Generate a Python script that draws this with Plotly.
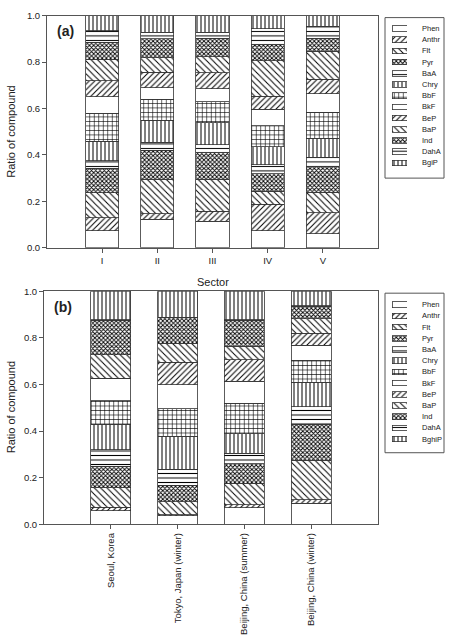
import plotly.graph_objects as go

# ---------------- data ----------------
compounds_a = ["Phen", "Anthr", "Flt", "Pyr", "BaA", "Chry", "BbF", "BkF", "BeP", "BaP", "Ind", "DahA", "BgiP"]
compounds_b = ["Phen", "Anthr", "Flt", "Pyr", "BaA", "Chry", "BbF", "BkF", "BeP", "BaP", "Ind", "DahA", "BghiP"]
sectors = ["I", "II", "III", "IV", "V"]
sites = ["Seoul, Korea", "Tokyo, Japan (winter)", "Beijing, China (summer)", "Beijing, China (winter)"]

# panel (a): ratio of each compound per sector (I..V)
phen_a = [0.074, 0.122, 0.115, 0.074, 0.060]
anthr_a = [0.055, 0.024, 0.042, 0.114, 0.090]
flt_a = [0.107, 0.150, 0.139, 0.055, 0.090]
pyr_a = [0.107, 0.125, 0.114, 0.076, 0.111]
baa_a = [0.032, 0.033, 0.034, 0.038, 0.038]
chry_a = [0.083, 0.095, 0.095, 0.078, 0.083]
bbf_a = [0.121, 0.090, 0.090, 0.090, 0.111]
bkf_a = [0.071, 0.051, 0.056, 0.072, 0.081]
bep_a = [0.069, 0.067, 0.068, 0.056, 0.062]
bap_a = [0.094, 0.062, 0.071, 0.153, 0.121]
ind_a = [0.072, 0.081, 0.079, 0.069, 0.056]
daha_a = [0.050, 0.028, 0.025, 0.069, 0.051]
bgip_a = [0.065, 0.072, 0.072, 0.056, 0.046]

# panel (b): ratio of each compound per site
phen_b = [0.059, 0.036, 0.071, 0.091]
anthr_b = [0.013, 0.004, 0.013, 0.014]
flt_b = [0.084, 0.057, 0.093, 0.169]
pyr_b = [0.094, 0.070, 0.082, 0.156]
baa_b = [0.070, 0.069, 0.046, 0.074]
chry_b = [0.109, 0.142, 0.083, 0.106]
bbf_b = [0.101, 0.117, 0.131, 0.093]
bkf_b = [0.094, 0.104, 0.094, 0.065]
bep_b = [0.002, 0.097, 0.094, 0.052]
bap_b = [0.102, 0.080, 0.058, 0.062]
ind_b = [0.148, 0.110, 0.111, 0.053]
daha_b = [0.002, 0.002, 0.002, 0.003]
bghip_b = [0.122, 0.112, 0.122, 0.062]

series_a = [phen_a, anthr_a, flt_a, pyr_a, baa_a, chry_a, bbf_a, bkf_a, bep_a, bap_a, ind_a, daha_a, bgip_a]
series_b = [phen_b, anthr_b, flt_b, pyr_b, baa_b, chry_b, bbf_b, bkf_b, bep_b, bap_b, ind_b, daha_b, bghip_b]

# ---------------- styles ----------------
W, H = 456, 635
FONT = "Liberation Sans, Arial, sans-serif"
TXT = "#222222"
AX = "#555555"
# (shape, size, solidity) per compound
PAT = [
    ("", 4, 0.2),
    ("/", 4, 0.25),
    ("\\", 4.5, 0.22),
    ("x", 3, 0.5),
    ("-", 4.5, 0.22),
    ("|", 4, 0.25),
    ("+", 4.5, 0.25),
    ("", 4, 0.2),
    ("/", 4, 0.25),
    ("\\", 4.5, 0.22),
    ("x", 3, 0.5),
    ("-", 4.5, 0.22),
    ("|", 4, 0.25),
]


def px_x(p):
    return p / W


def px_y(p):
    return 1 - p / H


def pattern(i):
    s, sz, so = PAT[i]
    return dict(shape=s, size=sz, solidity=so, fgcolor="black", bgcolor="white", fillmode="replace")


fig = go.Figure()

for i, (name, vals) in enumerate(zip(compounds_a, series_a)):
    fig.add_trace(go.Bar(
        x=sectors, y=vals, name=name, width=0.6, xaxis="x", yaxis="y",
        marker=dict(color="white", pattern=pattern(i), line=dict(color="#333333", width=0.8)),
        showlegend=False,
    ))

for i, (name, vals) in enumerate(zip(compounds_b, series_b)):
    fig.add_trace(go.Bar(
        x=sites, y=vals, name=name, width=0.6, xaxis="x2", yaxis="y2",
        marker=dict(color="white", pattern=pattern(i), line=dict(color="#333333", width=0.8)),
        showlegend=False,
    ))

# legend swatches (drawn on small hidden axes)
idx = list(range(len(compounds_a)))
for xa, ya in (("x3", "y3"), ("x4", "y4")):
    fig.add_trace(go.Bar(
        y=idx, x=[1] * len(idx), orientation="h", width=0.5, xaxis=xa, yaxis=ya,
        marker=dict(
            color="white",
            pattern=dict(shape=[p[0] for p in PAT], size=[p[1] for p in PAT],
                         solidity=[p[2] for p in PAT], fgcolor="black", bgcolor="white",
                         fillmode="replace"),
            line=dict(color="#333333", width=0.8),
        ),
        showlegend=False, hoverinfo="skip",
    ))

axis_common = dict(
    showline=True, linecolor=AX, linewidth=1, mirror=True,
    ticks="outside", ticklen=4, tickcolor=AX, tickwidth=1,
    showgrid=False, zeroline=False,
    tickfont=dict(family=FONT, size=9.5, color=TXT),
)

fig.update_layout(
    width=W, height=H,
    margin=dict(l=0, r=0, t=0, b=0),
    paper_bgcolor="white", plot_bgcolor="white",
    barmode="stack",
    font=dict(family=FONT, color=TXT),
    xaxis=dict(domain=[px_x(47), px_x(378)], anchor="y", range=[-1, 5], **axis_common),
    yaxis=dict(domain=[px_y(250), px_y(10)], anchor="x", range=[0, 1], dtick=0.2,
               tickformat=".1f", **axis_common),
    xaxis2=dict(domain=[px_x(44), px_x(378)], anchor="y2", range=[-1, 4], tickangle=-90,
                **{**axis_common, "tickfont": dict(family=FONT, size=9.5, color=TXT)}),
    yaxis2=dict(domain=[px_y(536), px_y(295)], anchor="x2", range=[0, 1], dtick=0.2,
                tickformat=".1f", **axis_common),
    xaxis3=dict(domain=[px_x(392), px_x(407)], anchor="y3", range=[0, 1], visible=False),
    yaxis3=dict(domain=[px_y(168.1), px_y(17.5)], anchor="x3", range=[12.5, -0.5], visible=False),
    xaxis4=dict(domain=[px_x(392), px_x(407)], anchor="y4", range=[0, 1], visible=False),
    yaxis4=dict(domain=[px_y(453.8), px_y(303.2)], anchor="x4", range=[12.5, -0.5], visible=False),
)

ann = [
    dict(text="<b>(a)</b>", x=px_x(55), y=px_y(26), xanchor="left", yanchor="middle", font=dict(size=14)),
    dict(text="<b>(b)</b>", x=px_x(52), y=px_y(311), xanchor="left", yanchor="middle", font=dict(size=14)),
    dict(text="Ratio of compound", x=px_x(11), y=px_y(130), textangle=-90, xanchor="center",
         yanchor="middle", font=dict(size=11)),
    dict(text="Ratio of compound", x=px_x(11), y=px_y(415), textangle=-90, xanchor="center",
         yanchor="middle", font=dict(size=11)),
    dict(text="Sector", x=px_x(212.5), y=px_y(285), xanchor="center", yanchor="middle", font=dict(size=11)),
]
for i, name in enumerate(compounds_a):
    ann.append(dict(text=name, x=px_x(420), xref="paper", y=i, yref="y3", xanchor="left",
                    yanchor="middle", font=dict(size=7.5)))
for i, name in enumerate(compounds_b):
    ann.append(dict(text=name, x=px_x(420), xref="paper", y=i, yref="y4", xanchor="left",
                    yanchor="middle", font=dict(size=7.5)))
for a in ann:
    a.setdefault("xref", "paper")
    a.setdefault("yref", "paper")
    a["showarrow"] = False
    a["font"] = dict(family=FONT, color=TXT, **a["font"])
fig.update_layout(annotations=ann)

fig.update_layout(shapes=[
    dict(type="rect", xref="paper", yref="paper", x0=px_x(385), x1=px_x(444), y0=px_y(178), y1=px_y(12),
         line=dict(color=AX, width=1)),
    dict(type="rect", xref="paper", yref="paper", x0=px_x(385), x1=px_x(444), y0=px_y(462), y1=px_y(297),
         line=dict(color=AX, width=1)),
])

fig.write_html("out.html")
